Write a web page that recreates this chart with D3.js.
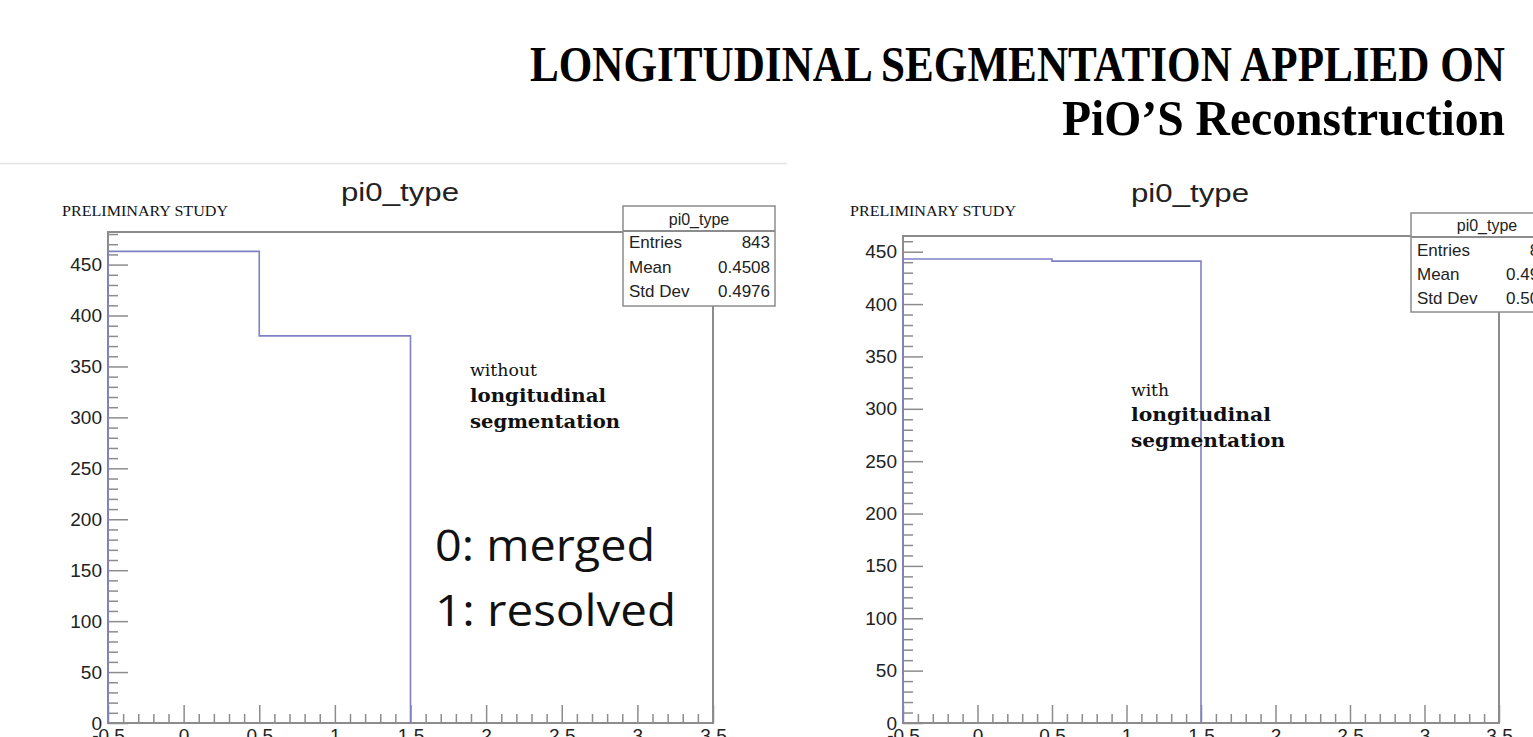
<!DOCTYPE html>
<html><head><meta charset="utf-8">
<script src="https://cdn.jsdelivr.net/npm/d3@7"></script>
<style>
html,body{margin:0;padding:0;background:#fff;overflow:hidden;}
svg{display:block;}
</style></head>
<body>
<svg id="c" width="1533" height="737"></svg>
<script>
// ---- data ----
const binEdges = [-0.5, 0.5, 1.5];          // pi0_type bins (0: merged, 1: resolved)
const countsWithout = [463, 380];            // without longitudinal segmentation
const countsWith = [443, 441];               // with longitudinal segmentation
const statLabels = ["Entries", "Mean", "Std Dev"];
const statsWithout = ["843", "0.4508", "0.4976"];
const statsWith = ["884", "0.4989", "0.5000"];
const xTickValues = [-0.5, 0, 0.5, 1, 1.5, 2, 2.5, 3, 3.5];
const yTickValues = [0, 50, 100, 150, 200, 250, 300, 350, 400, 450];
const titleLines = ["LONGITUDINAL SEGMENTATION APPLIED ON", "PiO\u2019S Reconstruction"];
const histTitle = "pi0_type";
const prelim = "PRELIMINARY STUDY";
const noteWithout = ["without", "longitudinal", "segmentation"];
const noteWith = ["with", "longitudinal", "segmentation"];
const legendLines = ["0: merged", "1: resolved"];

const svg = d3.select("#c");
const frameCol = "#8c8c8c", histCol = "#8080c4", txtCol = "#222";

// big title
svg.append("text").attr("x", 1505).attr("y", 81).attr("text-anchor", "end")
  .attr("font-family", "Liberation Serif").attr("font-weight", "bold").attr("font-size", 50)
  .attr("textLength", 975).attr("lengthAdjust", "spacingAndGlyphs").attr("fill", "#000")
  .text(titleLines[0]);
svg.append("text").attr("x", 1505).attr("y", 135).attr("text-anchor", "end")
  .attr("font-family", "Liberation Serif").attr("font-weight", "bold").attr("font-size", 50)
  .attr("textLength", 443).attr("lengthAdjust", "spacingAndGlyphs").attr("fill", "#000")
  .text(titleLines[1]);

// faint screenshot border of left panel
svg.append("line").attr("x1", 0).attr("x2", 787).attr("y1", 163.5).attr("y2", 163.5)
  .attr("stroke", "#e4e4e4").attr("stroke-width", 1.5);

function panel(cfg) {
  const g = svg.append("g");
  const x = d3.scaleLinear().domain([-0.5, 3.5]).range([cfg.x0, cfg.x1]);
  const y = d3.scaleLinear().domain([0, cfg.ymax]).range([cfg.yb, cfg.yt]);

  // histogram title and preliminary
  g.append("text").attr("x", cfg.titleX).attr("y", cfg.titleY).attr("text-anchor", "middle")
    .attr("font-family", "Liberation Sans").attr("font-size", 25).attr("fill", txtCol)
    .attr("textLength", 118).attr("lengthAdjust", "spacingAndGlyphs")
    .text(histTitle);
  g.append("text").attr("x", cfg.prelimX).attr("y", cfg.prelimY)
    .attr("font-family", "Liberation Serif").attr("font-size", 15).attr("fill", "#111")
    .attr("textLength", 166).attr("lengthAdjust", "spacingAndGlyphs")
    .text(prelim);

  // y axis major/minor
  const yMinor = d3.range(0, cfg.ymax, 10).filter(v => v % 50 !== 0);
  const ya = g.append("g").attr("transform", `translate(${cfg.x0},0)`)
    .call(d3.axisLeft(y).tickValues(yTickValues).tickSize(-20).tickSizeOuter(0).tickPadding(6));
  ya.selectAll("text").attr("font-family", "Liberation Sans").attr("font-size", 19).attr("fill", txtCol);
  ya.selectAll(".tick line").attr("stroke", frameCol).attr("stroke-width", 1.5);
  ya.select(".domain").remove();
  const ym = g.append("g").attr("transform", `translate(${cfg.x0},0)`)
    .call(d3.axisLeft(y).tickValues(yMinor).tickSize(-10).tickSizeOuter(0).tickFormat(""));
  ym.selectAll(".tick line").attr("stroke", frameCol).attr("stroke-width", 1.5);
  ym.select(".domain").remove();

  // x axis major/minor
  const xMinor = d3.range(-5, 36, 1).map(v => v / 10).filter(v => Math.abs((v * 2) - Math.round(v * 2)) > 1e-6);
  const xa = g.append("g").attr("transform", `translate(0,${cfg.yb})`)
    .call(d3.axisBottom(x).tickValues(xTickValues).tickSize(-18).tickSizeOuter(0).tickPadding(6)
      .tickFormat(d => String(d)));
  xa.selectAll("text").attr("font-family", "Liberation Sans").attr("font-size", 19).attr("fill", txtCol);
  xa.selectAll(".tick line").attr("stroke", frameCol).attr("stroke-width", 1.5);
  xa.select(".domain").remove();
  const xm = g.append("g").attr("transform", `translate(0,${cfg.yb})`)
    .call(d3.axisBottom(x).tickValues(xMinor).tickSize(-9).tickSizeOuter(0).tickFormat(""));
  xm.selectAll(".tick line").attr("stroke", frameCol).attr("stroke-width", 1.5);
  xm.select(".domain").remove();

  // frame
  g.append("rect").attr("x", cfg.x0).attr("y", cfg.yt).attr("width", cfg.x1 - cfg.x0).attr("height", cfg.yb - cfg.yt)
    .attr("fill", "none").attr("stroke", frameCol).attr("stroke-width", 2);

  // histogram step line
  const pts = [];
  cfg.counts.forEach((c, i) => { pts.push([binEdges[i], c]); pts.push([binEdges[i + 1], c]); });
  const path = [[binEdges[0], 0], ...pts, [binEdges[binEdges.length - 1], 0]];
  g.append("path").attr("d", d3.line().x(d => x(d[0])).y(d => y(d[1]))(path))
    .attr("fill", "none").attr("stroke", histCol).attr("stroke-width", 1.6);

  // stats box
  const sb = cfg.stats;
  g.append("rect").attr("x", sb.x).attr("y", sb.top).attr("width", sb.w).attr("height", sb.bottom - sb.top)
    .attr("fill", "#fff").attr("stroke", frameCol).attr("stroke-width", 1.5);
  g.append("line").attr("x1", sb.x).attr("x2", sb.x + sb.w).attr("y1", sb.sep).attr("y2", sb.sep)
    .attr("stroke", frameCol).attr("stroke-width", 2);
  g.append("text").attr("x", sb.x + sb.w / 2).attr("y", (sb.top + sb.sep) / 2 + 6).attr("text-anchor", "middle")
    .attr("font-family", "Liberation Sans").attr("font-size", 16).attr("fill", txtCol).text(histTitle);
  statLabels.forEach((lab, i) => {
    g.append("text").attr("x", sb.x + 6).attr("y", sb.rows[i] + 6)
      .attr("font-family", "Liberation Sans").attr("font-size", 17).attr("fill", txtCol).text(lab);
    g.append("text").attr("x", sb.x + sb.w - 5).attr("y", sb.rows[i] + 6).attr("text-anchor", "end")
      .attr("font-family", "Liberation Sans").attr("font-size", 17).attr("fill", txtCol).text(cfg.statVals[i]);
  });

  // annotation
  cfg.note.forEach((t, i) => {
    g.append("text").attr("x", cfg.noteX).attr("y", cfg.noteY[i])
      .attr("font-family", "DejaVu Serif").attr("font-weight", i === 0 ? "normal" : "bold")
      .attr("font-size", i === 0 ? 17 : 19).attr("fill", "#111")
      .attr("textLength", cfg.noteW[i]).attr("lengthAdjust", "spacingAndGlyphs").text(t);
  });
}

panel({
  x0: 108, x1: 713, yb: 723, yt: 232, ymax: 482, counts: countsWithout,
  titleX: 400, titleY: 201, prelimX: 62, prelimY: 216,
  stats: { x: 623, w: 152, top: 206, sep: 231, bottom: 306, rows: [242, 267, 291] },
  statVals: statsWithout,
  note: noteWithout, noteX: 470, noteY: [376, 402, 428], noteW: [67, 136, 150]
});
panel({
  x0: 903, x1: 1499, yb: 723, yt: 236, ymax: 465, counts: countsWith,
  titleX: 1190, titleY: 202, prelimX: 850, prelimY: 216,
  stats: { x: 1411, w: 152, top: 213, sep: 237, bottom: 312, rows: [250, 274, 298] },
  statVals: statsWith,
  note: noteWith, noteX: 1131, noteY: [396, 421, 447], noteW: [38, 140, 154]
});

// legend text
legendLines.forEach((t, i) => {
  svg.append("text").attr("x", 435).attr("y", [561, 626][i])
    .attr("font-family", "Open Sans").attr("font-size", 44).attr("fill", "#111")
    .attr("textLength", [220, 241][i]).attr("lengthAdjust", "spacingAndGlyphs").text(t);
});
</script>
</body></html>
